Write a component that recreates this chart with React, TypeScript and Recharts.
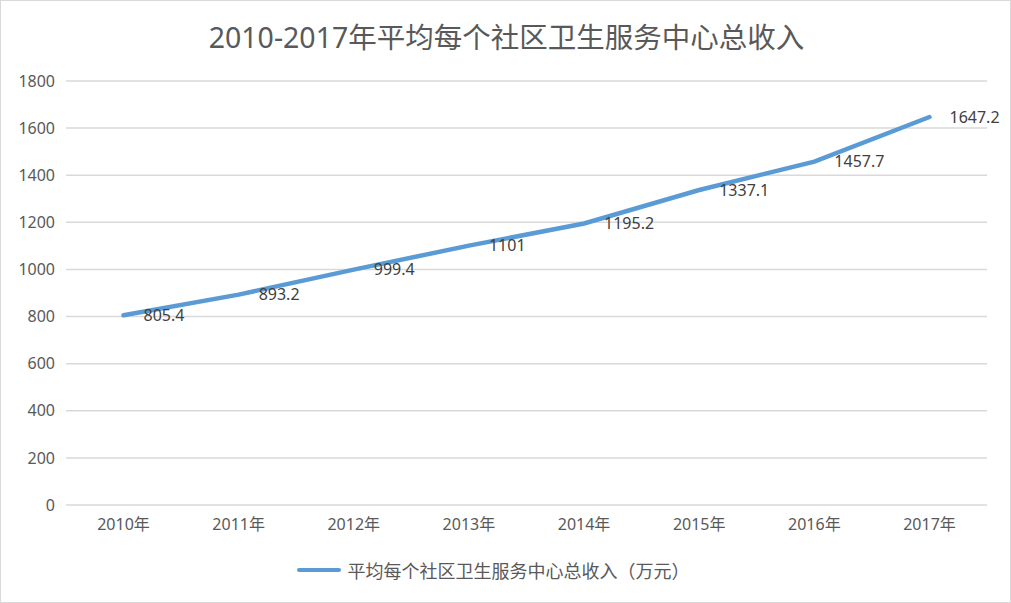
import { LineChart, Line, XAxis, YAxis, CartesianGrid, Legend, LabelList } from "recharts";

const years = ["2010年", "2011年", "2012年", "2013年", "2014年", "2015年", "2016年", "2017年"];
const income = [805.4, 893.2, 999.4, 1101, 1195.2, 1337.1, 1457.7, 1647.2];
const yTicks = [0, 200, 400, 600, 800, 1000, 1200, 1400, 1600, 1800];

const seriesName = "平均每个社区卫生服务中心总收入（万元）";
const title = "2010-2017年平均每个社区卫生服务中心总收入";

const data = years.map((year, i) => ({ year, income: income[i] }));

const FONT = "'Noto Sans', 'Noto Sans CJK SC', sans-serif";
const TEXT = "#595959";
const LINE = "#5B9BD5";

// 数据标签：点的右侧
const renderLabel = (props: any) => {
  const { x, y, value } = props;
  return (
    <text x={x + 20} y={y} dy="0.35em" fill="#404040" fontSize={16} fontFamily={FONT} textAnchor="start">
      {value}
    </text>
  );
};

const renderLegend = () => (
  <div style={{ display: "flex", justifyContent: "center", alignItems: "center", fontFamily: FONT }}>
    <span style={{ display: "inline-block", width: 44, height: 4, borderRadius: 2, background: LINE, marginRight: 7 }} />
    <span style={{ fontSize: 18, color: TEXT }}>{seriesName}</span>
  </div>
);

export default function App() {
  return (
    <div
      style={{
        position: "absolute",
        left: 0,
        top: 0,
        width: 1011,
        height: 603,
        boxSizing: "border-box",
        border: "1.5px solid #d9d9d9",
        background: "#fff",
        fontFamily: FONT,
      }}
    >
      <div
        style={{
          position: "absolute",
          top: 14,
          left: 0,
          width: 1011,
          textAlign: "center",
          fontSize: 28.5,
          color: TEXT,
          lineHeight: "44px",
        }}
      >
        {title}
      </div>
      <div style={{ position: "absolute", left: -1.5, top: -1.5 }}>
        <LineChart width={1011} height={603} data={data} margin={{ top: 81, right: 24, bottom: 32, left: 0 }}>
          <CartesianGrid vertical={false} stroke="#d9d9d9" strokeWidth={1.5} />
          <XAxis
            dataKey="year"
            axisLine={false}
            tickLine={false}
            tickSize={0}
            tickMargin={14}
            height={40}
            padding={{ left: 57.5, right: 57.5 }}
            tick={{ fill: TEXT, fontSize: 16, fontFamily: FONT }}
            interval={0}
          />
          <YAxis
            width={66}
            domain={[0, 1800]}
            ticks={yTicks}
            axisLine={false}
            tickLine={false}
            tickSize={0}
            tickMargin={11}
            tick={{ fill: TEXT, fontSize: 16, fontFamily: FONT }}
          />
          <Legend verticalAlign="bottom" content={renderLegend} wrapperStyle={{ bottom: 20 }} />
          <Line
            type="linear"
            dataKey="income"
            name={seriesName}
            stroke={LINE}
            strokeWidth={4.5}
            strokeLinecap="round"
            dot={false}
            activeDot={false}
            isAnimationActive={false}
          >
            <LabelList dataKey="income" content={renderLabel} />
          </Line>
        </LineChart>
      </div>
    </div>
  );
}
